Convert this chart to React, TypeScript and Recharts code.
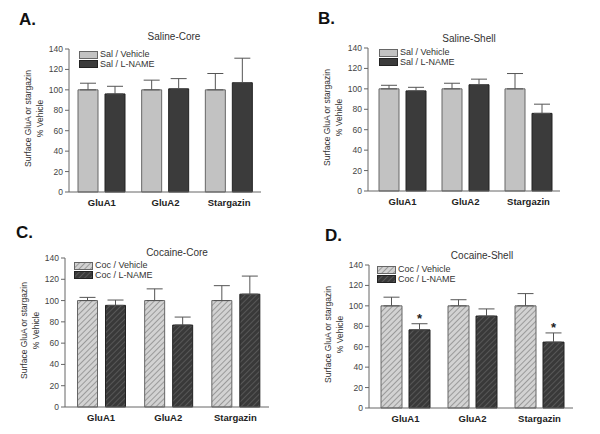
import { BarChart, Bar, XAxis, YAxis, ErrorBar, Legend, LabelList } from "recharts";

const categories = ["GluA1", "GluA2", "Stargazin"];
const yTicks = [0, 20, 40, 60, 80, 100, 120, 140];

// A. Saline-Core
const salCoreVeh = [100, 100, 100];
const salCoreVehErr = [6.5, 9.5, 16];
const salCoreLn = [96, 101, 107];
const salCoreLnErr = [7.5, 10, 24];

// B. Saline-Shell
const salShellVeh = [100, 100, 100];
const salShellVehErr = [3.5, 5.5, 15];
const salShellLn = [98, 104, 76];
const salShellLnErr = [3.5, 5.5, 9];

// C. Cocaine-Core
const cocCoreVeh = [100, 100, 100];
const cocCoreVehErr = [3, 11, 14];
const cocCoreLn = [95.5, 77, 106];
const cocCoreLnErr = [5, 7.5, 17];

// D. Cocaine-Shell
const cocShellVeh = [100, 100, 100];
const cocShellVehErr = [8.5, 6, 12];
const cocShellLn = [76.5, 90, 64.5];
const cocShellLnErr = [6, 7, 9];
const cocShellSig = [true, false, true];

const FONT = "'Liberation Sans', Arial, sans-serif";

function rows(veh: number[], vehErr: number[], ln: number[], lnErr: number[], sig?: boolean[]) {
  return categories.map((name, i) => ({
    name,
    veh: veh[i],
    vehErr: [0, vehErr[i]],
    ln: ln[i],
    lnErr: [0, lnErr[i]],
    lnErrVal: lnErr[i],
    sig: sig ? sig[i] : false,
  }));
}

const COLORS = {
  veh: "#c2c2c2",
  vehStroke: "#666",
  ln: "#3b3b3b",
  lnStroke: "#222",
  vehHatchBase: "#d2d2d2",
  vehHatchLine: "#8c8c8c",
  lnHatchBase: "#393939",
  lnHatchLine: "#5e5e5e",
};

function Hatch({ id, base, line }: { id: string; base: string; line: string }) {
  return (
    <pattern id={id} width={4} height={4} patternUnits="userSpaceOnUse" patternTransform="rotate(45)">
      <rect width={4} height={4} fill={base} />
      <line x1={0} y1={0} x2={0} y2={4} stroke={line} strokeWidth={1.6} />
    </pattern>
  );
}

function YLabel(props: any) {
  const vb = props.viewBox || {};
  const plotLeft = vb.x + vb.width;
  const cy = vb.y + vb.height / 2 - 2;
  const x1 = plotLeft - 41;
  const x2 = plotLeft - 29;
  return (
    <g>
      <text
        x={x1}
        y={cy}
        transform={`rotate(-90, ${x1}, ${cy})`}
        textAnchor="middle"
        dominantBaseline="central"
        fill="#333"
        fontSize={8.5}
        fontFamily={FONT}
      >
        Surface GluA or stargazin
      </text>
      <text
        x={x2}
        y={cy}
        transform={`rotate(-90, ${x2}, ${cy})`}
        textAnchor="middle"
        dominantBaseline="central"
        fill="#333"
        fontSize={8.5}
        fontFamily={FONT}
      >
        % Vehicle
      </text>
    </g>
  );
}

type PanelProps = {
  id: string;
  left: number;
  top: number;
  letter: string;
  letterX: number;
  letterY: number;
  title: string;
  titleX: number;
  titleY: number;
  data: ReturnType<typeof rows>;
  margin: { top: number; right: number; bottom: number; left: number };
  padLeft: number;
  barSize: number;
  barGap: number;
  hatched: boolean;
  vehName: string;
  lnName: string;
  legendX: number;
  legendY: number;
};

function Panel(p: PanelProps) {
  const vehFill = p.hatched ? `url(#${p.id}-vh)` : COLORS.veh;
  const lnFill = p.hatched ? `url(#${p.id}-lh)` : COLORS.ln;

  const legend = () => (
    <div style={{ fontFamily: FONT, fontSize: 9, color: "#333", lineHeight: "9.5px" }}>
      {[
        { name: p.vehName, fill: p.hatched ? `url(#${p.id}-lvh)` : COLORS.veh, stroke: COLORS.vehStroke },
        { name: p.lnName, fill: p.hatched ? `url(#${p.id}-llh)` : COLORS.ln, stroke: COLORS.lnStroke },
      ].map((item, i) => (
        <div key={item.name} style={{ display: "flex", alignItems: "center", height: 9.5 }}>
          <svg width={19} height={8} style={{ marginRight: 2 }}>
            {i === 0 && p.hatched && (
              <defs>
                <Hatch id={`${p.id}-lvh`} base={COLORS.vehHatchBase} line={COLORS.vehHatchLine} />
                <Hatch id={`${p.id}-llh`} base={COLORS.lnHatchBase} line={COLORS.lnHatchLine} />
              </defs>
            )}
            <rect x={0.5} y={0.5} width={18} height={7} fill={item.fill} stroke={item.stroke} strokeWidth={1} />
          </svg>
          <span style={{ whiteSpace: "nowrap", fontSize: 9 }}>{item.name}</span>
        </div>
      ))}
    </div>
  );

  const star = (props: any) => {
    const vb = props.viewBox || props;
    const row = p.data[props.index];
    if (!row || !row.sig) return null;
    const pxPerUnit = vb.height / row.ln;
    const errTop = vb.y - row.lnErrVal * pxPerUnit;
    return (
      <text
        x={vb.x + vb.width / 2}
        y={errTop - 1}
        textAnchor="middle"
        fontSize={13}
        fontWeight="bold"
        fontFamily={FONT}
        fill="#222"
      >
        *
      </text>
    );
  };

  return (
    <div style={{ position: "absolute", left: p.left, top: p.top, width: 300, height: 217 }}>
      <div
        style={{
          position: "absolute",
          left: p.letterX,
          top: p.letterY - 16,
          fontFamily: FONT,
          fontWeight: "bold",
          fontSize: 17,
          lineHeight: "19px",
          color: "#111",
        }}
      >
        {p.letter}
      </div>
      <div
        style={{
          position: "absolute",
          left: p.titleX - 60,
          width: 120,
          textAlign: "center",
          top: p.titleY - 9,
          fontFamily: FONT,
          fontSize: 10,
          lineHeight: "11px",
          color: "#333",
        }}
      >
        {p.title}
      </div>
      <BarChart width={300} height={217} data={p.data} margin={p.margin} barGap={p.barGap}>
        <defs>
          <Hatch id={`${p.id}-vh`} base={COLORS.vehHatchBase} line={COLORS.vehHatchLine} />
          <Hatch id={`${p.id}-lh`} base={COLORS.lnHatchBase} line={COLORS.lnHatchLine} />
        </defs>
        <XAxis
          dataKey="name"
          axisLine={{ stroke: "#666" }}
          tickLine={false}
          tickSize={0}
          tickMargin={7}
          height={20}
          padding={{ left: p.padLeft, right: 0 }}
          tick={{ fontSize: 9.5, fontWeight: "bold", fill: "#222", fontFamily: FONT }}
        />
        <YAxis
          domain={[0, 140]}
          ticks={yTicks}
          interval={0}
          width={30}
          tickSize={4}
          axisLine={{ stroke: "#666" }}
          tickLine={{ stroke: "#666" }}
          tick={{ fontSize: 8.5, fill: "#444", fontFamily: FONT }}
          label={{ content: YLabel }}
        />
        <Legend
          layout="vertical"
          align="center"
          verticalAlign="middle"
          wrapperStyle={{ left: p.legendX, top: p.legendY, width: "auto", height: "auto" }}
          content={legend}
        />
        <Bar
          dataKey="veh"
          name={p.vehName}
          fill={vehFill}
          stroke={COLORS.vehStroke}
          strokeWidth={1}
          barSize={p.barSize}
          isAnimationActive={false}
        >
          <ErrorBar dataKey="vehErr" direction="y" width={8} stroke="#555" strokeWidth={1} />
        </Bar>
        <Bar
          dataKey="ln"
          name={p.lnName}
          fill={lnFill}
          stroke={COLORS.lnStroke}
          strokeWidth={1}
          barSize={p.barSize}
          isAnimationActive={false}
        >
          <ErrorBar dataKey="lnErr" direction="y" width={8} stroke="#555" strokeWidth={1} />
          <LabelList dataKey="ln" content={star} />
        </Bar>
      </BarChart>
    </div>
  );
}

export default function App() {
  return (
    <div
      style={{
        position: "absolute",
        left: 0,
        top: 0,
        width: 600,
        height: 434,
        background: "#fff",
        fontFamily: FONT,
      }}
    >
      <Panel
        id="a"
        left={0}
        top={0}
        letter="A."
        letterX={19}
        letterY={26}
        title="Saline-Core"
        titleX={174}
        titleY={40}
        data={rows(salCoreVeh, salCoreVehErr, salCoreLn, salCoreLnErr)}
        margin={{ top: 49, right: 39, bottom: 5, left: 39 }}
        padLeft={1}
        barSize={20}
        barGap={7}
        hatched={false}
        vehName="Sal / Vehicle"
        lnName="Sal / L-NAME"
        legendX={79}
        legendY={50}
      />
      <Panel
        id="b"
        left={300}
        top={0}
        letter="B."
        letterX={18}
        letterY={25}
        title="Saline-Shell"
        titleX={169}
        titleY={42}
        data={rows(salShellVeh, salShellVehErr, salShellLn, salShellLnErr)}
        margin={{ top: 48, right: 40, bottom: 6, left: 38 }}
        padLeft={3}
        barSize={20}
        barGap={7}
        hatched={false}
        vehName="Sal / Vehicle"
        lnName="Sal / L-NAME"
        legendX={79}
        legendY={48}
      />
      <Panel
        id="c"
        left={0}
        top={217}
        letter="C."
        letterX={16}
        letterY={22}
        title="Cocaine-Core"
        titleX={177}
        titleY={39}
        data={rows(cocCoreVeh, cocCoreVehErr, cocCoreLn, cocCoreLnErr)}
        margin={{ top: 41, right: 31, bottom: 7, left: 35 }}
        padLeft={2.5}
        barSize={20}
        barGap={8}
        hatched={true}
        vehName="Coc / Vehicle"
        lnName="Coc / L-NAME"
        legendX={74}
        legendY={44}
      />
      <Panel
        id="d"
        left={300}
        top={217}
        letter="D."
        letterX={25}
        letterY={25}
        title="Cocaine-Shell"
        titleX={182}
        titleY={42}
        data={rows(cocShellVeh, cocShellVehErr, cocShellLn, cocShellLnErr, cocShellSig)}
        margin={{ top: 48, right: 27, bottom: 6, left: 39 }}
        padLeft={3}
        barSize={21}
        barGap={7}
        hatched={true}
        vehName="Coc / Vehicle"
        lnName="Coc / L-NAME"
        legendX={77}
        legendY={48}
      />
    </div>
  );
}
